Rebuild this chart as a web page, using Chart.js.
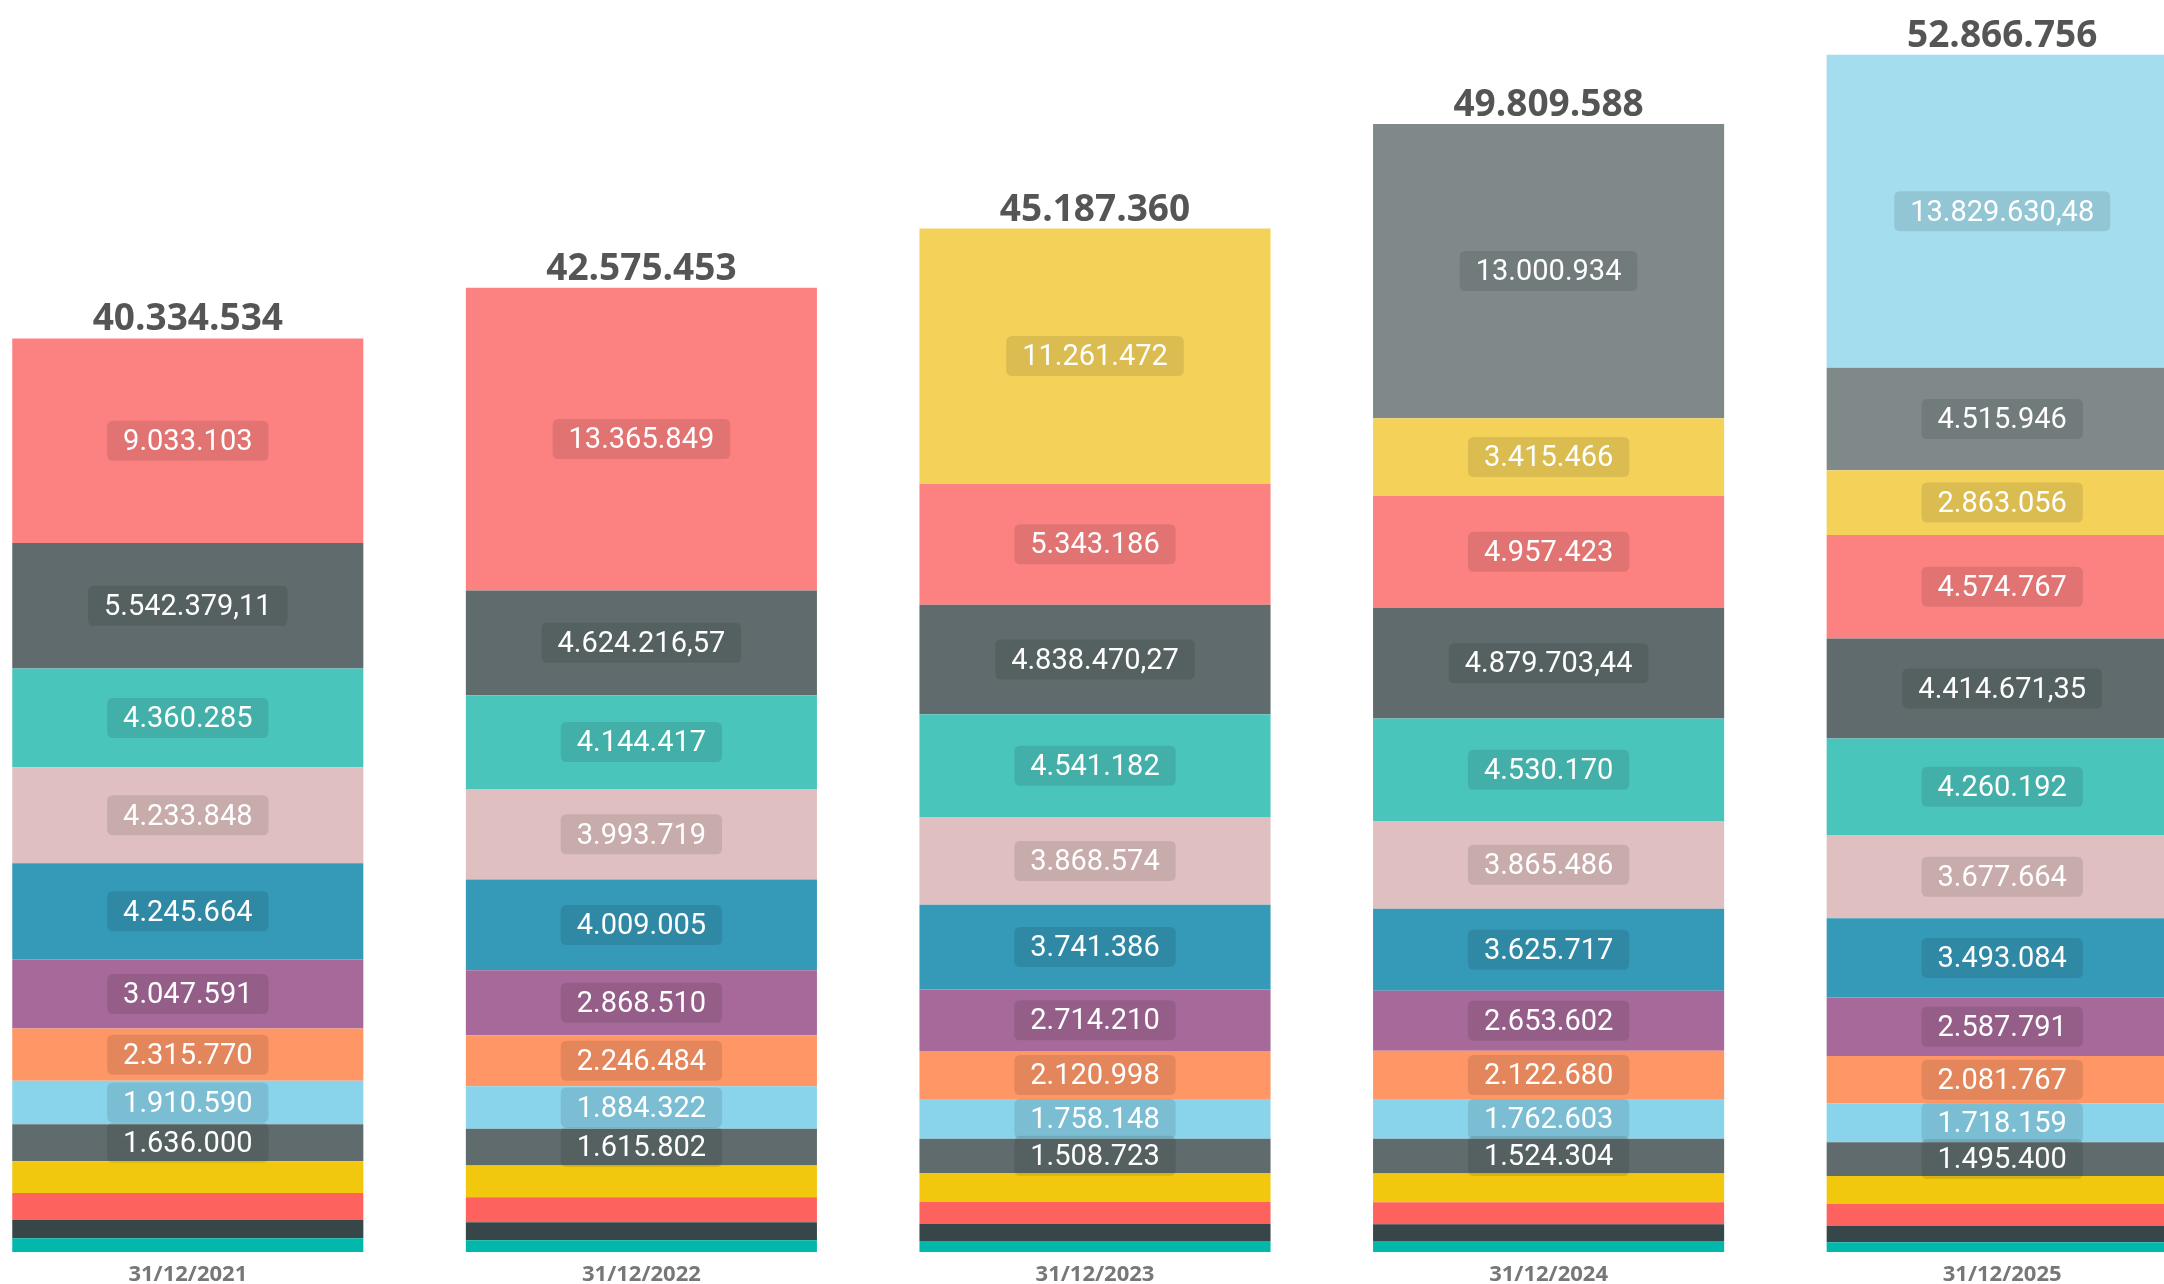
<!DOCTYPE html>
<html>
<head>
<meta charset="utf-8">
<script src="https://cdn.jsdelivr.net/npm/chart.js@4.4.1/dist/chart.umd.min.js"></script>
<style>
    html, body { margin: 0; padding: 0; background: #fff; overflow: hidden; width: 2164px; height: 1284px; }
    #wrap { position: absolute; left: -39px; top: 0; width: 2268px; height: 1298px; }
</style>
</head>
<body>
<div id="wrap"><canvas id="myChart"></canvas></div>
<script>
const dates = ['31/12/2021', '31/12/2022', '31/12/2023', '31/12/2024', '31/12/2025'];
const totals = [40334534, 42575453, 45187360, 49809588, 52866756];

// series from bottom to top of each stack
const teal1 = [609304, 523128, 491011, 481500, 434629];
const dark1 = [820000, 790000, 750000, 740000, 710000];
const red1 = [1180000, 1100000, 970000, 970000, 970000];
const yellow1 = [1400000, 1410000, 1280000, 1280000, 1240000];
const grey1 = [1636000, 1615802, 1508723, 1524304, 1495400];
const lightBlue1 = [1910590, 1884322, 1758148, 1762603, 1718159];
const orange1 = [2315770, 2246484, 2120998, 2122680, 2081767];
const purple1 = [3047591, 2868510, 2714210, 2653602, 2587791];
const blue1 = [4245664, 4009005, 3741386, 3625717, 3493084];
const pink1 = [4233848, 3993719, 3868574, 3865486, 3677664];
const teal2 = [4360285, 4144417, 4541182, 4530170, 4260192];
const grey2 = [5542379.11, 4624216.57, 4838470.27, 4879703.44, 4414671.35];
const red2 = [9033103, 13365849, 5343186, 4957423, 4574767];
const yellow2 = [0, 0, 11261472, 3415466, 2863056];
const grey3 = [0, 0, 0, 13000934, 4515946];
const lightBlue2 = [0, 0, 0, 0, 13829630.48];

const seriesList = [teal1, dark1, red1, yellow1, grey1, lightBlue1, orange1, purple1, blue1, pink1, teal2, grey2, red2, yellow2, grey3, lightBlue2];
const colors = ['#01B8AA', '#374649', '#FD625E', '#F2C80F', '#5F6B6D', '#8AD4EB', '#FE9666', '#A66999',
    '#3599B8', '#DFBFBF', '#4AC5BB', '#5F6B6D', '#FB8281', '#F4D25A', '#7F898A', '#A4DDEE'];

const fmt = new Intl.NumberFormat('de-DE', { maximumFractionDigits: 2 });
const fmtTotal = new Intl.NumberFormat('de-DE', { maximumFractionDigits: 0 });

function roundRect(ctx, x, y, w, h, r) {
    ctx.beginPath();
    ctx.moveTo(x + r, y);
    ctx.lineTo(x + w - r, y);
    ctx.quadraticCurveTo(x + w, y, x + w, y + r);
    ctx.lineTo(x + w, y + h - r);
    ctx.quadraticCurveTo(x + w, y + h, x + w - r, y + h);
    ctx.lineTo(x + r, y + h);
    ctx.quadraticCurveTo(x, y + h, x, y + h - r);
    ctx.lineTo(x, y + r);
    ctx.quadraticCurveTo(x, y, x + r, y);
    ctx.closePath();
}

// value boxes inside segments + totals above bars
const labelPlugin = {
    id: 'segmentLabels',
    afterDatasetsDraw(chart) {
        const ctx = chart.ctx;
        ctx.save();
        ctx.font = '29px Roboto';
        ctx.textAlign = 'center';
        ctx.textBaseline = 'middle';
        chart.data.datasets.forEach((ds, di) => {
            if (di < 4) return; // thin bottom bands carry no label
            chart.getDatasetMeta(di).data.forEach((bar, i) => {
                const v = ds.data[i];
                if (!v) return;
                const text = fmt.format(v);
                const w = ctx.measureText(text).width + 32;
                const h = 40;
                const cy = (bar.y + bar.base) / 2;
                ctx.fillStyle = 'rgba(0,0,0,0.1)';
                roundRect(ctx, bar.x - w / 2, cy - h / 2, w, h, 6);
                ctx.fill();
                ctx.fillStyle = '#ffffff';
                ctx.fillText(text, bar.x, cy + 2);
            });
        });

        ctx.font = 'bold 37px "Open Sans"';
        ctx.fillStyle = '#555555';
        ctx.textBaseline = 'alphabetic';
        totals.forEach((t, i) => {
            let top = Infinity;
            let x = 0;
            chart.data.datasets.forEach((ds, di) => {
                const bar = chart.getDatasetMeta(di).data[i];
                if (ds.data[i] && bar.y < top) { top = bar.y; x = bar.x; }
            });
            ctx.fillText(fmtTotal.format(t), x, top - 8);
        });
        ctx.restore();
    }
};

const ctx1 = document.getElementById('myChart').getContext('2d');
const myChart = new Chart(ctx1, {
    type: 'bar',
    data: {
        labels: dates,
        datasets: seriesList.map((s, i) => ({
            data: s,
            backgroundColor: colors[i],
            borderWidth: 0,
            categoryPercentage: 1,
            barPercentage: 0.774
        }))
    },
    options: {
        responsive: true,
        maintainAspectRatio: false,
        animation: false,
        layout: { padding: 0 },
        plugins: {
            legend: { display: false },
            tooltip: { enabled: false }
        },
        scales: {
            x: {
                stacked: true,
                grid: { display: false, drawTicks: false },
                border: { display: false },
                ticks: {
                    padding: 12,
                    color: '#777777',
                    font: { family: '"Open Sans"', size: 22, weight: 'bold', lineHeight: 1 }
                }
            },
            y: {
                stacked: true,
                display: false,
                min: 0,
                max: 55280000
            }
        }
    },
    plugins: [labelPlugin]
});
</script>
</body>
</html>
